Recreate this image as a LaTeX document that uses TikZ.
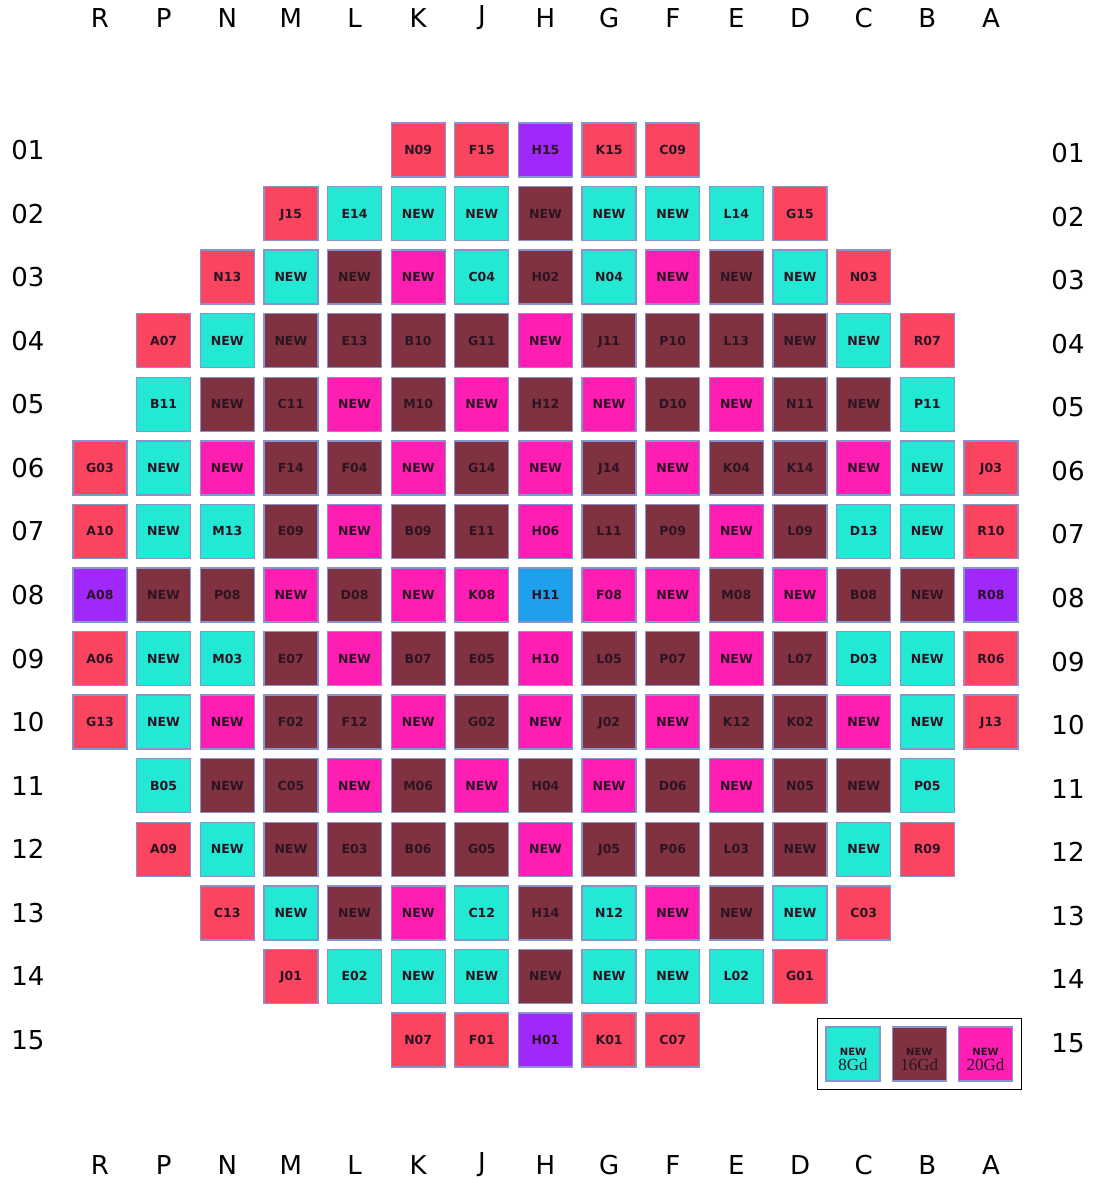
\documentclass[tikz,border=0pt]{standalone}
\usepackage{fontspec}
\setmainfont{DejaVu Sans}
\newfontfamily\gdfont{Liberation Serif}
\usetikzlibrary{positioning,fit}
\definecolor{gdr}{RGB}{250,68,96}
\definecolor{gdc}{RGB}{34,232,212}
\definecolor{gdm}{RGB}{128,50,64}
\definecolor{gdp}{RGB}{255,30,180}
\definecolor{gdv}{RGB}{160,40,250}
\definecolor{gdb}{RGB}{30,160,235}
\definecolor{assyedge}{RGB}{135,148,205}
\definecolor{assytext}{RGB}{45,20,35}

\begin{document}
\begin{tikzpicture}[
  x=1pt, y=-1pt,
  assy/.style={rectangle, draw=assyedge, line width=1.3pt, minimum width=54pt, minimum height=54pt,
    inner sep=0pt, text height=9pt, text depth=0pt, text=assytext, font=\fontsize{12.5}{12.5}\selectfont\bfseries},
  axislabel/.style={font=\fontsize{26}{26}\selectfont, text=black},
  legtext/.style={inner sep=0pt, text=assytext}
]
\useasboundingbox (0,0) rectangle (1096,1180);

% column letters
\foreach \l [count=\c] in {R,P,N,M,L,K,J,H,G,F,E,D,C,B,A} {
  \node[axislabel] (top-\c) at ({100+63.64*(\c-1)}, 18) {\l};
  \node[axislabel] (bot-\c) at ({100+63.64*(\c-1)}, 1165) {\l};
}
% row numbers
\foreach \r in {1,...,15} {
  \node[axislabel] (lft-\r) at (28, {150+63.57*(\r-1)}) {\ifnum\r<10 0\fi\r};
  \node[axislabel] (rgt-\r) at (1068, {153+63.57*(\r-1)}) {\ifnum\r<10 0\fi\r};
}

% core map: column/colour/label
\foreach \r/\cells in {
  1/{6/r/N09,7/r/F15,8/v/H15,9/r/K15,10/r/C09},
  2/{4/r/J15,5/c/E14,6/c/NEW,7/c/NEW,8/m/NEW,9/c/NEW,10/c/NEW,11/c/L14,12/r/G15},
  3/{3/r/N13,4/c/NEW,5/m/NEW,6/p/NEW,7/c/C04,8/m/H02,9/c/N04,10/p/NEW,11/m/NEW,12/c/NEW,13/r/N03},
  4/{2/r/A07,3/c/NEW,4/m/NEW,5/m/E13,6/m/B10,7/m/G11,8/p/NEW,9/m/J11,10/m/P10,11/m/L13,12/m/NEW,13/c/NEW,14/r/R07},
  5/{2/c/B11,3/m/NEW,4/m/C11,5/p/NEW,6/m/M10,7/p/NEW,8/m/H12,9/p/NEW,10/m/D10,11/p/NEW,12/m/N11,13/m/NEW,14/c/P11},
  6/{1/r/G03,2/c/NEW,3/p/NEW,4/m/F14,5/m/F04,6/p/NEW,7/m/G14,8/p/NEW,9/m/J14,10/p/NEW,11/m/K04,12/m/K14,13/p/NEW,14/c/NEW,15/r/J03},
  7/{1/r/A10,2/c/NEW,3/c/M13,4/m/E09,5/p/NEW,6/m/B09,7/m/E11,8/p/H06,9/m/L11,10/m/P09,11/p/NEW,12/m/L09,13/c/D13,14/c/NEW,15/r/R10},
  8/{1/v/A08,2/m/NEW,3/m/P08,4/p/NEW,5/m/D08,6/p/NEW,7/p/K08,8/b/H11,9/p/F08,10/p/NEW,11/m/M08,12/p/NEW,13/m/B08,14/m/NEW,15/v/R08},
  9/{1/r/A06,2/c/NEW,3/c/M03,4/m/E07,5/p/NEW,6/m/B07,7/m/E05,8/p/H10,9/m/L05,10/m/P07,11/p/NEW,12/m/L07,13/c/D03,14/c/NEW,15/r/R06},
  10/{1/r/G13,2/c/NEW,3/p/NEW,4/m/F02,5/m/F12,6/p/NEW,7/m/G02,8/p/NEW,9/m/J02,10/p/NEW,11/m/K12,12/m/K02,13/p/NEW,14/c/NEW,15/r/J13},
  11/{2/c/B05,3/m/NEW,4/m/C05,5/p/NEW,6/m/M06,7/p/NEW,8/m/H04,9/p/NEW,10/m/D06,11/p/NEW,12/m/N05,13/m/NEW,14/c/P05},
  12/{2/r/A09,3/c/NEW,4/m/NEW,5/m/E03,6/m/B06,7/m/G05,8/p/NEW,9/m/J05,10/m/P06,11/m/L03,12/m/NEW,13/c/NEW,14/r/R09},
  13/{3/r/C13,4/c/NEW,5/m/NEW,6/p/NEW,7/c/C12,8/m/H14,9/c/N12,10/p/NEW,11/m/NEW,12/c/NEW,13/r/C03},
  14/{4/r/J01,5/c/E02,6/c/NEW,7/c/NEW,8/m/NEW,9/c/NEW,10/c/NEW,11/c/L02,12/r/G01},
  15/{6/r/N07,7/r/F01,8/v/H01,9/r/K01,10/r/C07}} {
  \foreach \c/\k/\t in \cells {
    \node[assy, fill=gd\k] (a-\r-\c) at ({100+63.64*(\c-1)}, {150+63.57*(\r-1)}) {\t};
  }
}

% legend
\node[assy, fill=gdc] (leg8) at (853,1054) {};
\node[assy, fill=gdm, right=11pt of leg8] (leg16) {};
\node[assy, fill=gdp, right=11pt of leg16] (leg20) {};
\foreach \n/\g in {leg8/8Gd,leg16/16Gd,leg20/20Gd} {
  \node[legtext, font=\fontsize{10}{10}\selectfont\bfseries, yshift=2pt] (\n-new) at (\n.center) {NEW};
  \node[legtext, font=\gdfont\fontsize{17}{17}\selectfont, below=3pt of \n-new] (\n-gd) {\g};
}
\node[draw=black, line width=1.3pt, inner sep=8pt, fit=(leg8)(leg20)] (legbox) {};
\end{tikzpicture}
\end{document}
